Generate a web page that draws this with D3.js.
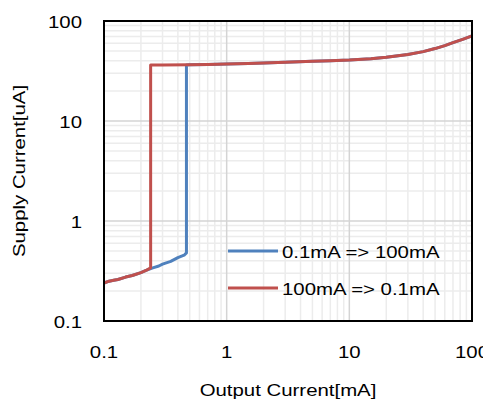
<!DOCTYPE html>
<html><head><meta charset="utf-8">
<script src="https://cdn.jsdelivr.net/npm/d3@7"></script>
<style>body{margin:0;background:#fff}svg{display:block}text{font-family:"Liberation Sans",Arial,sans-serif;fill:#000}</style>
</head><body><svg id="c" width="483" height="401"></svg>
<script>
const xTicks = [0.1, 1, 10, 100];
const xTickLabels = ["0.1", "1", "10", "100"];
const yTicks = [0.1, 1, 10, 100];
const yTickLabels = ["0.1", "1", "10", "100"];
const seriesNames = ["0.1mA => 100mA", "100mA => 0.1mA"];
// 0.1mA => 100mA sweep
const blueX = [0.1, 0.11, 0.12, 0.13, 0.15, 0.17, 0.2, 0.22, 0.25, 0.28, 0.3, 0.35, 0.4, 0.45, 0.47, 0.47, 0.5, 0.7, 1, 1.5, 2, 3, 5, 7, 10, 15, 20, 30, 40, 50, 60, 70, 85, 100];
const blueY = [0.24, 0.25, 0.255, 0.26, 0.275, 0.285, 0.305, 0.32, 0.34, 0.355, 0.37, 0.395, 0.43, 0.455, 0.48, 36.4, 36.6, 36.8, 37.1, 37.6, 38, 38.7, 39.5, 40, 40.7, 42, 43.4, 46.3, 49.4, 53, 56.8, 60.8, 66, 71];
// 100mA => 0.1mA sweep
const redX = [100, 85, 70, 60, 50, 40, 30, 20, 15, 10, 7, 5, 3, 2, 1.5, 1, 0.7, 0.5, 0.3, 0.24, 0.24, 0.22, 0.2, 0.17, 0.15, 0.13, 0.12, 0.11, 0.1];
const redY = [71, 66, 60.8, 56.8, 53, 49.4, 46.3, 43.4, 42, 40.7, 40, 39.5, 38.7, 38, 37.6, 37.1, 36.8, 36.6, 36.4, 36.3, 0.34, 0.32, 0.305, 0.285, 0.275, 0.26, 0.255, 0.25, 0.24];
const colors = ["#4f81bd", "#c0504d"];

const svg = d3.select("#c");
const L = 104, R = 472, T = 21, B = 321;
const x = d3.scaleLog().domain([0.1, 100]).range([L, R]);
const y = d3.scaleLog().domain([0.1, 100]).range([B, T]);
const SX = 1.2, FS = 17;

// minor grid
const minors = [];
[0.1, 1, 10].forEach(d => { for (let k = 2; k <= 9; k++) minors.push(d * k); });
const g = svg.append("g");
g.selectAll(".vx").data(minors).join("line")
  .attr("x1", d => x(d)).attr("x2", d => x(d)).attr("y1", T).attr("y2", B)
  .attr("stroke", "#ececec").attr("stroke-width", 1.5);
g.selectAll(".hy").data(minors).join("line")
  .attr("y1", d => y(d)).attr("y2", d => y(d)).attr("x1", L).attr("x2", R)
  .attr("stroke", "#ececec").attr("stroke-width", 1.5);
// major grid
g.selectAll(".mx").data(xTicks).join("line")
  .attr("x1", d => x(d)).attr("x2", d => x(d)).attr("y1", T).attr("y2", B)
  .attr("stroke", "#d4d4d4").attr("stroke-width", 1.5);
g.selectAll(".my").data(yTicks).join("line")
  .attr("y1", d => y(d)).attr("y2", d => y(d)).attr("x1", L).attr("x2", R)
  .attr("stroke", "#d4d4d4").attr("stroke-width", 1.5);

// lines
const line = d3.line().x(d => x(d[0])).y(d => y(d[1]));
const series = [d3.zip(blueX, blueY), d3.zip(redX, redY)];
svg.selectAll(".s").data(series).join("path")
  .attr("d", line).attr("fill", "none")
  .attr("stroke", (d, i) => colors[i]).attr("stroke-width", 3)
  .attr("stroke-linejoin", "round");

// frame
svg.append("rect").attr("x", L).attr("y", T).attr("width", R - L).attr("height", B - T)
  .attr("fill", "none").attr("stroke", "#000").attr("stroke-width", 2);

// tick labels
svg.selectAll(".xl").data(xTicks).join("text")
  .attr("transform", d => `translate(${x(d)},${352})scale(${SX},1)`)
  .attr("text-anchor", "middle").attr("dominant-baseline", "central")
  .attr("font-size", FS).text((d, i) => xTickLabels[i]);
svg.selectAll(".yl").data(yTicks).join("text")
  .attr("transform", d => `translate(82,${y(d) + 1})scale(${SX},1)`)
  .attr("text-anchor", "end").attr("dominant-baseline", "central")
  .attr("font-size", FS).text((d, i) => yTickLabels[i]);

// axis titles
svg.append("text").attr("transform", `translate(288,390)scale(${SX},1)`)
  .attr("text-anchor", "middle").attr("dominant-baseline", "central")
  .attr("font-size", FS).text("Output Current[mA]");
svg.append("text").attr("transform", `translate(19,171)rotate(-90)scale(${SX},1)`)
  .attr("text-anchor", "middle").attr("dominant-baseline", "central")
  .attr("font-size", FS).text("Supply Current[uA]");

// legend
const legY = [251, 288];
const lg = svg.selectAll(".lg").data(seriesNames).join("g");
lg.append("line").attr("x1", 228).attr("x2", 278)
  .attr("y1", (d, i) => legY[i]).attr("y2", (d, i) => legY[i])
  .attr("stroke", (d, i) => colors[i]).attr("stroke-width", 3);
lg.append("text").attr("transform", (d, i) => `translate(282,${legY[i] + 1})scale(${SX},1)`)
  .attr("dominant-baseline", "central").attr("font-size", FS).text(d => d);
</script></body></html>
